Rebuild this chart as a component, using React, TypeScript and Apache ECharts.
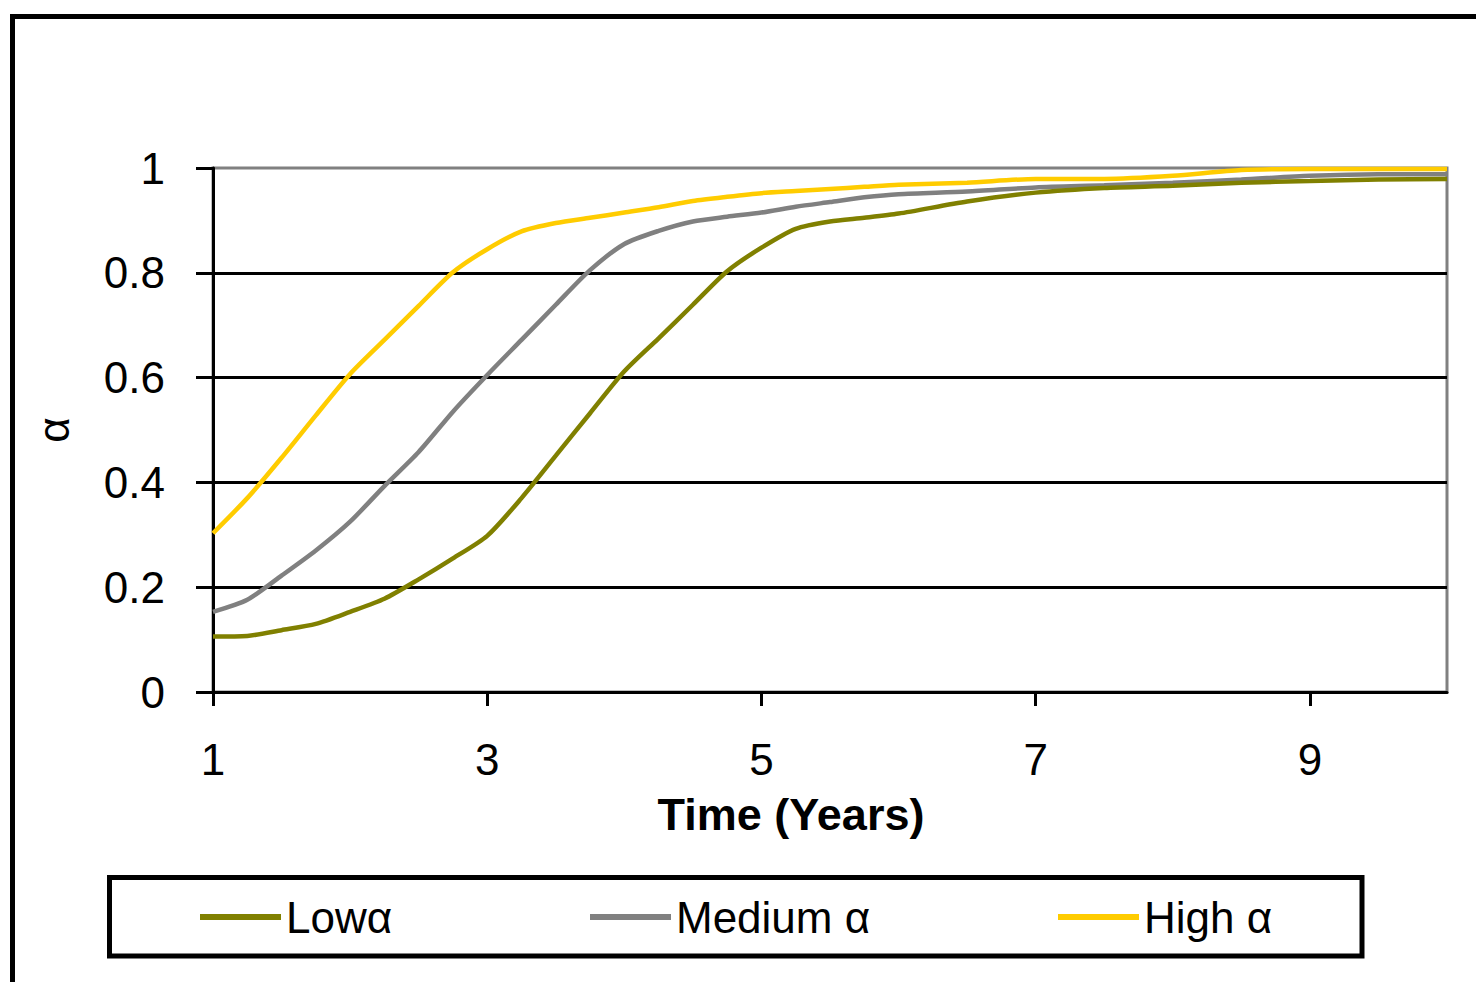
import React, { useEffect, useRef } from "react";
import * as echarts from "echarts";

// Time axis (years) shared by all three curves
const years = [1, 1.25, 1.5, 1.75, 2, 2.25, 2.5, 2.75, 3, 3.25, 3.5, 3.75, 4, 4.25, 4.5, 4.75, 5, 5.25, 5.5, 5.75, 6, 6.5, 7, 7.5, 8, 8.5, 9, 9.5, 10];

const lowAlpha = [0.106, 0.107, 0.118, 0.13, 0.153, 0.178, 0.215, 0.255, 0.298, 0.37, 0.451, 0.532, 0.612, 0.675, 0.739, 0.803, 0.848, 0.884, 0.898, 0.905, 0.913, 0.936, 0.953, 0.962, 0.966, 0.972, 0.975, 0.978, 0.979];
const mediumAlpha = [0.153, 0.176, 0.222, 0.27, 0.325, 0.393, 0.458, 0.535, 0.605, 0.672, 0.739, 0.805, 0.855, 0.88, 0.898, 0.907, 0.915, 0.926, 0.935, 0.944, 0.95, 0.955, 0.963, 0.967, 0.972, 0.978, 0.985, 0.988, 0.988];
const highAlpha = [0.303, 0.37, 0.447, 0.528, 0.607, 0.672, 0.737, 0.801, 0.845, 0.879, 0.895, 0.905, 0.915, 0.925, 0.937, 0.945, 0.952, 0.956, 0.96, 0.964, 0.968, 0.972, 0.979, 0.979, 0.985, 0.996, 0.998, 0.998, 0.998];

const xTickValues = [1, 3, 5, 7, 9];
const seriesNames = ["Lowα", "Medium α", "High α"];
const seriesColors = ["#808000", "#808080", "#FFCC00"];

const FONT = "'Liberation Sans', Arial, sans-serif";

const pairs = (ys: number[]) => years.map((x, i) => [x, ys[i]]);

export default function App() {
  const ref = useRef<HTMLDivElement>(null);

  useEffect(() => {
    if (!ref.current) return;
    const chart = echarts.init(ref.current, null, { renderer: "svg" });
    const values = [lowAlpha, mediumAlpha, highAlpha];
    const zOrder = [4, 3, 2];

    const legendBase = {
      icon: "rect",
      itemWidth: 81,
      itemHeight: 6,
      padding: 0,
      top: 895,
      selectedMode: false,
      textStyle: { fontSize: 44, lineHeight: 44, color: "#000", fontFamily: FONT },
    };

    chart.setOption({
      animation: false,
      backgroundColor: "#fff",
      grid: {
        left: 213,
        top: 168,
        width: 1234,
        height: 524,
        show: true,
        borderColor: "#808080",
        borderWidth: 3,
        backgroundColor: "transparent",
      },
      xAxis: {
        type: "value",
        min: 1,
        max: 10,
        axisLine: { show: true, lineStyle: { color: "#000", width: 3 } },
        axisTick: {
          show: true,
          length: 14,
          customValues: xTickValues,
          lineStyle: { color: "#000", width: 3 },
        },
        axisLabel: {
          customValues: xTickValues,
          margin: 45,
          fontSize: 44,
          color: "#000",
          fontFamily: FONT,
        },
        splitLine: { show: false },
      },
      yAxis: {
        type: "value",
        min: 0,
        max: 1,
        interval: 0.2,
        axisLine: { show: true, lineStyle: { color: "#000", width: 3 } },
        axisTick: { show: true, length: 17, lineStyle: { color: "#000", width: 3 } },
        axisLabel: { margin: 48, fontSize: 44, color: "#000", fontFamily: FONT },
        splitLine: {
          show: true,
          showMaxLine: false,
          lineStyle: { color: "#000", width: 3 },
        },
      },
      legend: [
        { ...legendBase, data: [seriesNames[0]], left: 200 },
        { ...legendBase, data: [seriesNames[1]], left: 590 },
        { ...legendBase, data: [seriesNames[2]], left: 1058 },
      ],
      series: seriesNames.map((name, i) => ({
        name,
        type: "line",
        data: pairs(values[i]),
        color: seriesColors[i],
        itemStyle: { color: seriesColors[i] },
        lineStyle: { color: seriesColors[i], width: 4.5 },
        symbol: "none",
        smooth: 0.25,
        z: zOrder[i],
      })),
      graphic: [
        {
          type: "rect",
          shape: { x: 12.5, y: 16.5, width: 2000, height: 2000 },
          style: { fill: "none", stroke: "#000", lineWidth: 5 },
          silent: true,
        },
        {
          type: "rect",
          shape: { x: 109.5, y: 877.5, width: 1252.5, height: 78.5 },
          style: { fill: "none", stroke: "#000", lineWidth: 5 },
          silent: true,
        },
        {
          type: "text",
          x: 791,
          y: 814,
          style: {
            text: "Time (Years)",
            fontSize: 45,
            fontWeight: "bold",
            fontFamily: FONT,
            fill: "#000",
            align: "center",
            verticalAlign: "middle",
          },
        },
        {
          type: "text",
          x: 53,
          y: 430,
          rotation: Math.PI / 2,
          style: {
            text: "α",
            fontSize: 44,
            fontFamily: FONT,
            fill: "#000",
            align: "center",
            verticalAlign: "middle",
          },
        },
      ],
    });

    return () => chart.dispose();
  }, []);

  return (
    <div
      ref={ref}
      style={{ position: "absolute", left: 0, top: 0, width: 1476, height: 982, background: "#fff" }}
    />
  );
}
